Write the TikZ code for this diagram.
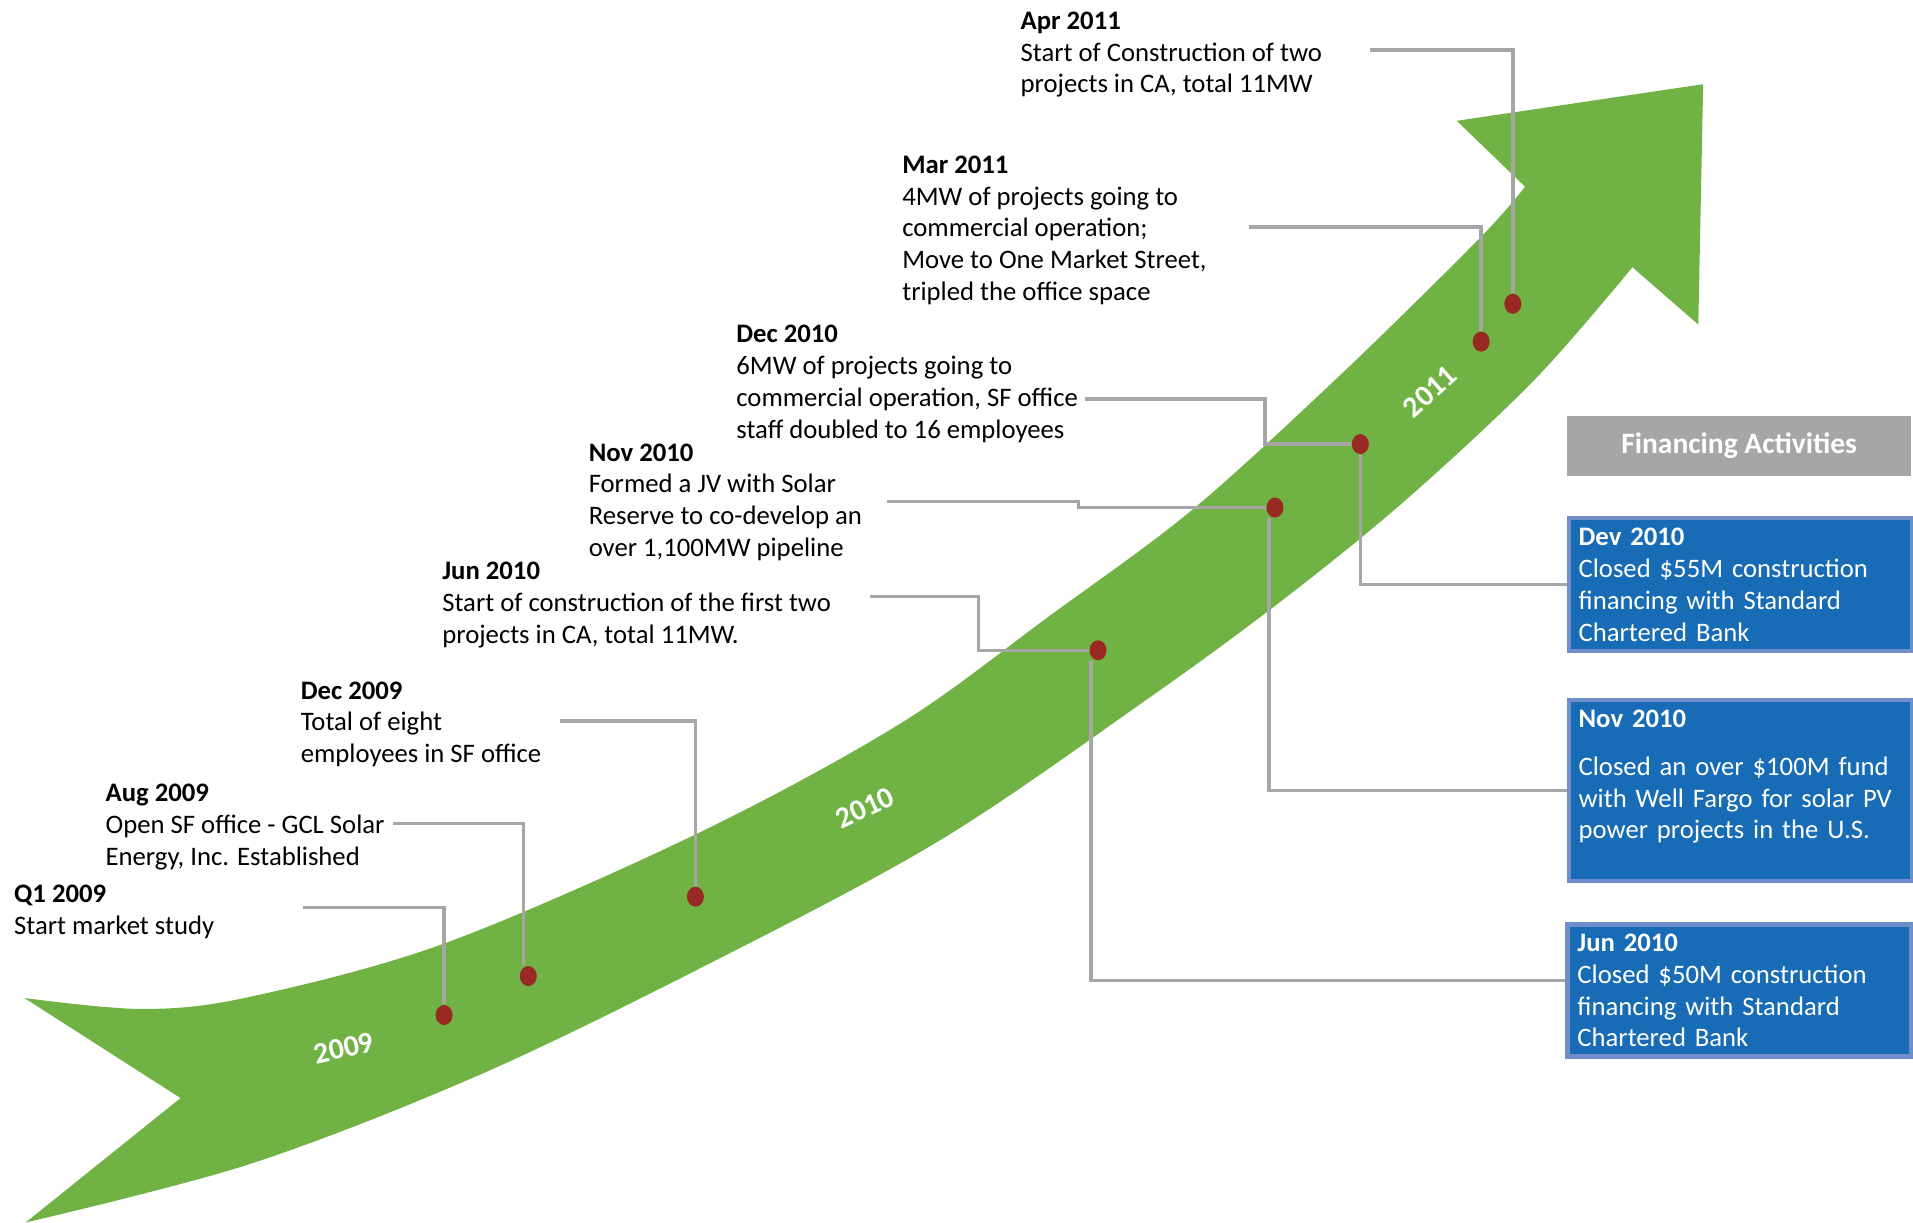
\documentclass[tikz,border=0pt]{standalone}
\usepackage{fontspec}
\usetikzlibrary{shapes.geometric}
\setmainfont{Carlito}
\definecolor{bandgreen}{RGB}{112,179,68}
\definecolor{dotred}{RGB}{152,41,37}
\definecolor{linegray}{RGB}{166,166,166}
\definecolor{finblue}{RGB}{23,108,181}
\definecolor{finedge}{RGB}{112,142,202}
\newcommand{\evfont}{\fontsize{7.6}{9.07}\selectfont}
\newcommand{\yrfont}{\fontsize{8.5}{10}\selectfont}
\newcommand{\hdfont}{\fontsize{8.4}{10}\selectfont}
\tikzset{
  conn/.style={draw=linegray, line width=1pt},
  dot/.style={ellipse, fill=dotred, inner sep=0pt, minimum width=0.17cm, minimum height=0.2cm},
  event/.style={anchor=north west, align=left, inner sep=0pt, font=\evfont},
  year/.style={text=white, font=\yrfont\bfseries, inner sep=0pt},
  finhead/.style={anchor=north west, fill=linegray, text=white, font=\hdfont\bfseries,
    minimum width=3.44cm, minimum height=0.6cm, inner sep=0pt},
  finbox/.style={anchor=north west, draw=finedge, line width=1.2pt, fill=finblue,
    text=white, font=\evfont, align=left, text width=3.24cm, inner xsep=0.1cm,
    inner ysep=0pt}
}
\begin{document}
\begin{tikzpicture}[x=0.0122cm, y=-0.0122cm]
  \useasboundingbox (0,0) rectangle (1568,1002);
  % Drawing the growth arrow
  \fill[bandgreen] plot[smooth, tension=0.55] coordinates {(20,818) (117,827) (205,817) (365,773) (572,683) (738,593) (860,505) (977,418) (1100,306) (1213,195) (1250,153)}
    -- (1194,99) -- (1396,69) -- (1392,266) -- (1338,219)
    -- plot[smooth, tension=0.55] coordinates {(1338,219) (1258,311) (1152,410) (1051,492) (939,574) (770,689) (581,790) (393,881) (205,954) (21,1002)}
    -- (148,900) -- cycle;

  % Marking the years on the arrow
  \node[year, rotate=13] (y2009) at (282,859) {2009};
  \node[year, rotate=25] (y2010) at (709,662) {2010};
  \node[year, rotate=42] (y2011) at (1172,321) {2011};

  % Marking the events
  \node[event] (q1) at (11,725) {\textbf{Q1 2009}\\Start market study};
  \node[event] (aug) at (86,642) {\textbf{Aug 2009}\\Open SF office - GCL Solar\\Energy, Inc. Established};
  \node[event] (dec9) at (246,558) {\textbf{Dec 2009}\\Total of eight\\employees in SF office};
  \node[event] (jun) at (362,460) {\textbf{Jun 2010}\\Start of construction of the first two\\projects in CA, total 11MW.};
  \node[event] (nov) at (482,363) {\textbf{Nov 2010}\\Formed a JV with Solar\\Reserve to co-develop an\\over 1,100MW pipeline};
  \node[event] (dec10) at (603,266) {\textbf{Dec 2010}\\6MW of projects going to\\commercial operation, SF office\\staff doubled to 16 employees};
  \node[event] (mar) at (739,127) {\textbf{Mar 2011}\\4MW of projects going to\\commercial operation;\\Move to One Market Street,\\tripled the office space};
  \node[event] (apr) at (836,9) {\textbf{Apr 2011}\\Start of Construction of two\\projects in CA, total 11MW};

  % Marking the financing activities
  \node[finhead] (finHead) at (1284,340) {Financing Activities};
  \node[finbox, minimum height=1.33cm] (finDev) at (1284,423) {\textbf{Dev 2010}\\Closed \$55M construction\\financing with Standard\\Chartered Bank};
  \node[finbox, minimum height=1.81cm] (finNov) at (1284,572) {\textbf{Nov 2010}\\[4.5pt]Closed an over \$100M fund\\with Well Fargo for solar PV\\power projects in the U.S.\\\mbox{}};
  \node[finbox, minimum height=1.32cm] (finJun) at (1283,756) {\textbf{Jun 2010}\\Closed \$50M construction\\financing with Standard\\Chartered Bank};

  % Marking points on the arrow
  \node[dot] (q1D) at (364,832) {};
  \node[dot] (augD) at (433,800) {};
  \node[dot] (dec9D) at (570,735) {};
  \node[dot] (junD) at (900,533) {};
  \node[dot] (novD) at (1045,416) {};
  \node[dot] (dec10D) at (1115,364) {};
  \node[dot] (marD) at (1214,280) {};
  \node[dot] (aprD) at (1240,249) {};

  % Drawing the connectors
  \coordinate (q1S) at (248,744);
  \coordinate (augS) at (322,675);
  \coordinate (dec9S) at (459,591);
  \coordinate (junS) at (713,489);
  \coordinate (novS) at (727,411);
  \coordinate (dec10S) at (889,327);
  \coordinate (marS) at (1024,186);
  \coordinate (aprS) at (1123,41);
  \draw[conn] (q1S) -| (q1D);
  \draw[conn] (augS) -| ([xshift=-0.05cm]augD.north);
  \draw[conn] (dec9S) -| (dec9D);
  \draw[conn] (junS) -- ++(89,0) |- (junD);
  \draw[conn] (novS) -- ++(157,0) |- (novD);
  \draw[conn] (dec10S) -- ++(148,0) |- (dec10D);
  \draw[conn] (marS) -| (marD);
  \draw[conn] (aprS) -| (aprD);
  \draw[conn] ([xshift=-0.07cm]junD.south) |- ([yshift=0.1cm]finJun.west);
  \draw[conn] ([xshift=-0.06cm]novD.south) |- (finNov.west);
  \draw[conn] (dec10D) |- (finDev.west);
\end{tikzpicture}
\end{document}
